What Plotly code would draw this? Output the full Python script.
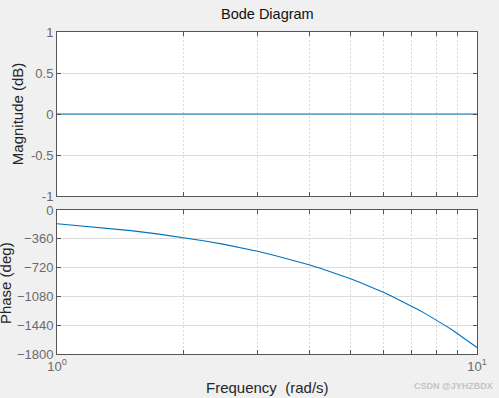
import plotly.graph_objects as go

# Data
freq = [1, 1.25, 1.5, 1.75, 2, 2.25, 2.5, 2.75, 3, 3.25, 3.5, 3.75, 4, 4.25, 4.5, 4.75,
        5, 5.25, 5.5, 5.75, 6, 6.25, 6.5, 6.75, 7, 7.25, 7.5, 7.75, 8, 8.25, 8.5, 8.75,
        9, 9.25, 9.5, 9.75, 10]
magnitude_db = [0] * len(freq)
phase_deg = [-172, -215, -258, -301, -344, -387, -430, -473, -516, -559, -602, -645,
             -688, -731, -773, -816, -859, -902, -945, -988, -1031, -1074, -1117, -1160,
             -1203, -1246, -1289, -1332, -1375, -1418, -1461, -1504, -1547, -1590, -1633,
             -1676, -1719]

mag_ticks = [1, 0.5, 0, -0.5, -1]
phase_ticks = [0, -360, -720, -1080, -1440, -1800]
x_tickvals = [1, 2, 3, 4, 5, 6, 7, 8, 9, 10]
x_ticktext = ["10<sup>0</sup>", " ", " ", " ", " ", " ", " ", " ", " ", "10<sup>1</sup>"]

BLUE = "#0072BD"
FRAME = "#555555"
GRID = "#dcdcdc"
VGRID = "#d8d8d8"
TICKCOL = "#6a6a6a"
FONT = "Liberation Sans, Arial, sans-serif"

fig = go.Figure()
fig.add_trace(go.Scatter(x=freq, y=magnitude_db, mode="lines",
                         line=dict(color=BLUE, width=1.1), xaxis="x", yaxis="y",
                         showlegend=False))
fig.add_trace(go.Scatter(x=freq, y=phase_deg, mode="lines",
                         line=dict(color=BLUE, width=1.1), xaxis="x2", yaxis="y2",
                         showlegend=False))

xcommon = dict(type="log", range=[0, 1], tickvals=x_tickvals,
               showline=True, linecolor=FRAME, linewidth=1, mirror="ticks",
               ticks="inside", ticklen=4, tickcolor=FRAME,
               showgrid=True, gridcolor=VGRID, griddash="2px,2px", gridwidth=1,
               zeroline=False, tickfont=dict(color=TICKCOL, size=13, family=FONT))
ycommon = dict(showline=True, linecolor=FRAME, linewidth=1, mirror="ticks",
               ticks="inside", ticklen=4, tickcolor=FRAME,
               showgrid=True, gridcolor=GRID, gridwidth=1, zeroline=False,
               tickfont=dict(color=TICKCOL, size=13, family=FONT))

fig.update_layout(
    width=499, height=398,
    margin=dict(l=57, r=22, t=32, b=44, autoexpand=False),
    paper_bgcolor="#f0f0f0", plot_bgcolor="white",
    font=dict(family=FONT, color="#262626"),
    xaxis=dict(**xcommon, domain=[0, 1], anchor="y", showticklabels=False),
    yaxis=dict(**ycommon, domain=[0.4907, 1], anchor="x", range=[-1, 1],
               tickvals=mag_ticks, ticktext=[str(v) for v in mag_ticks]),
    xaxis2=dict(**xcommon, domain=[0, 1], anchor="y2", ticktext=x_ticktext),
    yaxis2=dict(**ycommon, domain=[0, 0.4472], anchor="x2", range=[-1800, 0],
                tickvals=phase_ticks),
    annotations=[
        dict(text="Bode Diagram", x=0.5, y=1 + (32 - 14) / 322, xref="paper", yref="paper",
             showarrow=False, yanchor="middle", font=dict(size=14.5, color="#111111")),
        dict(text="Magnitude (dB)", xref="paper", yref="paper",
             x=-0.095, y=0.745, textangle=-90, showarrow=False,
             font=dict(size=15, color="#262626"), xanchor="center", yanchor="middle"),
        dict(text="Phase (deg)", xref="paper", yref="paper",
             x=-0.124, y=0.22, textangle=-90, showarrow=False,
             font=dict(size=15, color="#262626"), xanchor="center", yanchor="middle"),
        dict(text="Frequency  (rad/s)", xref="paper", yref="paper",
             x=0.5, y=-0.105, showarrow=False, yanchor="middle",
             font=dict(size=15, color="#262626")),
        dict(text="<b>CSDN @JYHZBDX</b>", xref="paper", yref="paper",
             x=1.043, y=-0.1, xanchor="right", yanchor="middle", showarrow=False,
             font=dict(size=9, color="#c4c4c4")),
    ],
)

fig.write_html(
    "out.html",
    config={"displayModeBar": False},
    post_script="document.body.style.margin='0';document.body.style.background='#f0f0f0';",
)
